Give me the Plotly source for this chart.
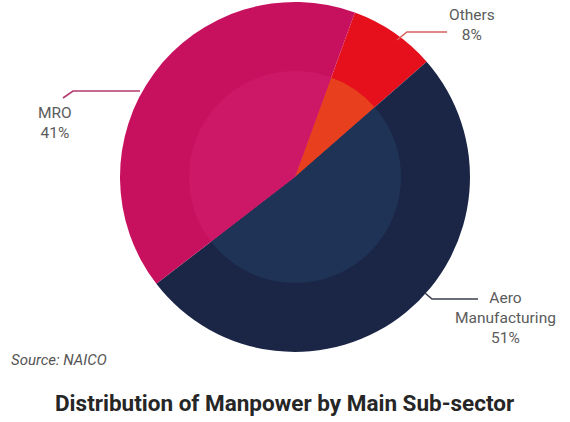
import plotly.graph_objects as go

# ---- data ----
categories = ["Others", "Aero Manufacturing", "MRO"]
shares = [8, 51, 41]
title_text = "Distribution of Manpower by Main Sub-sector"
source_text = "Source: NAICO"

# ---- style ----
W, H = 570, 422
CX, CY, R, R_IN = 295, 177, 175, 106
outer_colors = ["#e5101c", "#1b2647", "#c8115e"]
inner_colors = ["#e8401e", "#1f3356", "#cc1866"]
leader_colors = ["#d8625e", "#3a3f4a", "#b23a6e"]
leader_paths = {
    "Others": [(397, 40), (407, 32), (447, 32)],
    "Aero Manufacturing": [(425, 293), (432, 299), (478, 299)],
    "MRO": [(140, 91), (73, 91), (63, 98)],
}
label_pos = {
    "Others": (472, 25),
    "Aero Manufacturing": (505, 318),
    "MRO": (55, 123),
}


def px(x, y):
    return x / W, 1 - y / H


def domain(r):
    x0, y0 = px(CX - r, CY + r)
    x1, y1 = px(CX + r, CY - r)
    return dict(x=[x0, x1], y=[y0, y1])


fig = go.Figure()
for r, cols in ((R, outer_colors), (R_IN, inner_colors)):
    fig.add_trace(go.Pie(
        labels=categories, values=shares, sort=False, direction="clockwise",
        rotation=20, textinfo="none", hoverinfo="label+percent",
        marker=dict(colors=cols, line=dict(width=0)),
        domain=domain(r), showlegend=False,
    ))

shapes = []
annotations = []
for cat, val, lc in zip(categories, shares, leader_colors):
    pts = [px(x, y) for x, y in leader_paths[cat]]
    path = "M " + " L ".join(f"{x},{y}" for x, y in pts)
    shapes.append(dict(type="path", xref="paper", yref="paper", path=path,
                       line=dict(color=lc, width=1.6)))
    lx, ly = px(*label_pos[cat])
    annotations.append(dict(
        x=lx, y=ly, xref="paper", yref="paper", showarrow=False,
        text=cat.replace(" ", "<br>") + f"<br>{val}%",
        font=dict(family="Roboto", size=15.5, color="#5b5b5b"),
        xanchor="center", yanchor="middle", align="center",
    ))

sx, sy = px(9, 360)
annotations.append(dict(x=sx, y=sy, xref="paper", yref="paper", showarrow=False,
                        text=f"<i>{source_text}</i>", xanchor="left", yanchor="middle",
                        font=dict(family="Roboto", size=15, color="#555555")))
tx, ty = px(284, 403)
annotations.append(dict(x=tx, y=ty, xref="paper", yref="paper", showarrow=False,
                        text=f"<b>{title_text}</b>", xanchor="center", yanchor="middle",
                        font=dict(family="Roboto", size=22.5, color="#262626")))

fig.update_layout(
    width=W, height=H, margin=dict(l=0, r=0, t=0, b=0),
    paper_bgcolor="white", plot_bgcolor="white",
    shapes=shapes, annotations=annotations,
)
fig.write_html("out.html")
